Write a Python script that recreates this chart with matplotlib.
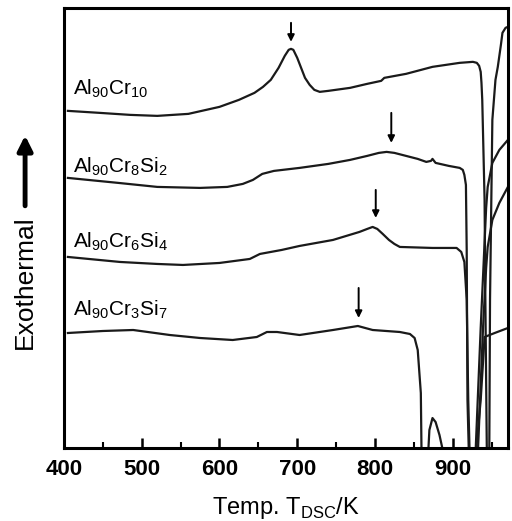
import numpy as np
import matplotlib
matplotlib.use("Agg")
import matplotlib.pyplot as plt

plt.rcParams['font.family'] = ['Liberation Sans', 'DejaVu Sans']
plt.rcParams['mathtext.fontset'] = 'custom'
plt.rcParams['mathtext.rm'] = 'Liberation Sans'

# DSC traces (T in K, signal in arbitrary units)
t1 = [405, 446, 485, 520, 560, 600, 625, 645, 656, 666, 676, 684, 689, 692,
      695, 700, 705, 710, 716, 722, 729, 740, 768, 790, 808, 812, 840, 874,
      909, 926, 931, 934, 936, 937, 938, 941, 942, 944,
      947, 948, 951, 955, 958, 962, 964, 968, 971]
s1 = [337, 335, 333, 332, 334, 341, 348, 355, 361, 368, 380, 392, 398, 399,
      398, 390, 380, 370, 363, 358, 356, 357, 360, 364, 367, 370, 374, 381,
      385, 386, 385, 382, 376, 365, 348, 248, 148, -12,
      -12, 148, 328, 368, 381, 403, 415, 420, 421]

t2 = [405, 470, 520, 575, 610, 630, 643, 655, 670, 703, 740, 768, 790, 805,
      815, 825, 840, 855, 866, 872, 874, 878, 895, 909, 913, 915, 917, 918,
      919, 921,
      929, 936, 943, 945, 951, 960, 971]
s2 = [270, 265, 261, 260, 261, 264, 268, 274, 277, 280, 284, 288, 292, 295,
      296, 295, 292, 289, 286, 287, 289, 285, 282, 280, 278, 273, 263, 198,
      48, -12,
      -12, 120, 240, 261, 285, 298, 308]

t3 = [405, 472, 520, 553, 600, 639, 652, 680, 703, 746, 780, 790, 797, 803,
      810, 818, 825, 832, 874, 905, 911, 915, 918, 920, 922,
      932, 939, 943, 945, 951, 960, 971]
s3 = [191, 186, 184, 183, 185, 189, 194, 198, 202, 208, 216, 219, 221, 219,
      214, 208, 204, 201, 200, 200, 196, 186, 148, 48, -12,
      -12, 120, 180, 201, 228, 245, 261]

t4 = [405, 450, 489, 536, 575, 617, 648, 661, 674, 703, 746, 778, 797, 832,
      845, 851, 855, 859, 860,
      868, 870, 874, 878, 883, 890,
      929, 936, 941, 954, 971]
s4 = [115, 117, 118, 113, 110, 108, 111, 116, 116, 113, 118, 122, 118, 116,
      114, 110, 98, 55, -12,
      -12, 18, 30, 26, 13, -12,
      -12, 48, 111, 115, 120]

names = [r'Al$_{\mathregular{90}}$Cr$_{\mathregular{10}}$',
         r'Al$_{\mathregular{90}}$Cr$_{\mathregular{8}}$Si$_{\mathregular{2}}$',
         r'Al$_{\mathregular{90}}$Cr$_{\mathregular{6}}$Si$_{\mathregular{4}}$',
         r'Al$_{\mathregular{90}}$Cr$_{\mathregular{3}}$Si$_{\mathregular{7}}$']
label_y = [353, 276, 201, 133]
peak_t = [692, 821, 801, 779]
arrow_top = [425, 335, 258, 160]
arrow_bot = [406, 305, 230, 130]

fig = plt.figure(figsize=(5.12, 5.21), dpi=100)
ax = fig.add_axes([0.125, 0.140, 0.867, 0.845])

for t, s in [(t1, s1), (t2, s2), (t3, s3), (t4, s4)]:
    ax.plot(t, s, color='#1a1a1a', lw=1.6)

for name, y in zip(names, label_y):
    ax.text(412, y, name, fontsize=15, va='baseline', ha='left')

for x, y0, y1 in zip(peak_t, arrow_top, arrow_bot):
    ax.annotate('', xy=(x, y1), xytext=(x, y0),
                arrowprops=dict(arrowstyle='-|>', color='black', lw=1.4,
                                mutation_scale=10, shrinkA=0, shrinkB=0))

ax.set_xlim(400, 971)
ax.set_ylim(0, 440)
ax.set_xticks([400, 500, 600, 700, 800, 900])
ax.set_xticks(np.arange(450, 971, 100), minor=True)
ax.set_yticks([])
ax.tick_params(axis='x', which='major', direction='in', length=7, width=1.8,
               pad=8, labelsize=16)
ax.tick_params(axis='x', which='minor', direction='in', length=4, width=1.5)
for lab in ax.get_xticklabels():
    lab.set_fontweight('bold')
for sp in ax.spines.values():
    sp.set_linewidth(2.2)

ax.set_xlabel(r'Temp. T$_{\mathregular{DSC}}$/K', fontsize=17, labelpad=11)

fig.text(0.049, 0.459, 'Exothermal', rotation=90, fontsize=19,
         ha='center', va='center')
ax.annotate('', xy=(0.049, 0.740), xytext=(0.049, 0.605),
            xycoords='figure fraction', textcoords='figure fraction',
            arrowprops=dict(arrowstyle='-|>', color='black', lw=3.5,
                            mutation_scale=22, shrinkA=0, shrinkB=0))

fig.savefig('out.png', dpi=100)
